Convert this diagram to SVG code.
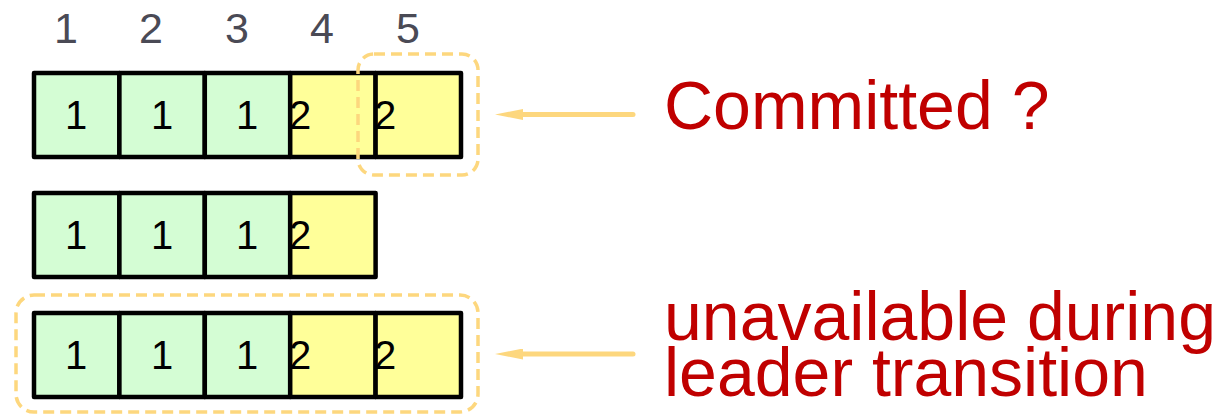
<svg xmlns="http://www.w3.org/2000/svg" width="1224" height="414" viewBox="0 0 1224 414">
  <style>
    .cell { stroke: #000; stroke-width: 4.5; stroke-linejoin: round; }
    .g { fill: #d4fdd4; }
    .y { fill: #ffff99; }
    .term { font-family: "Liberation Sans", Arial, sans-serif; font-size: 40px; fill: #000; }
    .idx { font-family: "Liberation Sans", Arial, sans-serif; font-size: 43px; fill: #4a4a55; text-anchor: middle; }
    .lbl { font-family: "Liberation Sans", Arial, sans-serif; font-size: 68px; fill: #c00000; }
    .dash { fill: none; stroke: #fdd77e; stroke-width: 3.5; stroke-dasharray: 11 6; }
    .arr { stroke: #fdd77e; stroke-width: 5; stroke-linecap: round; fill: none; }
  </style>
  <defs>
    <marker id="ah" viewBox="0 0 28 11" refX="0" refY="5.5" markerWidth="28" markerHeight="11" markerUnits="userSpaceOnUse" orient="auto">
      <path d="M28,5.5 L0,0 L0,11 Z" fill="#fdd77e"/>
    </marker>
  </defs>

  <g id="indices">
    <text class="idx" x="66" y="43">1</text>
    <text class="idx" x="151" y="43">2</text>
    <text class="idx" x="237" y="43">3</text>
    <text class="idx" x="322" y="43">4</text>
    <text class="idx" x="408" y="43">5</text>
  </g>

  <g id="row1">
    <rect class="cell g" x="34" y="73" width="85.4" height="84"/>
    <rect class="cell g" x="119.4" y="73" width="85.4" height="84"/>
    <rect class="cell g" x="204.8" y="73" width="85.4" height="84"/>
    <rect class="cell y" x="290.2" y="73" width="85.4" height="84"/>
    <rect class="cell y" x="375.6" y="73" width="85.4" height="84"/>
    <text class="term" x="76" y="129" text-anchor="middle">1</text>
    <text class="term" x="162" y="129" text-anchor="middle">1</text>
    <text class="term" x="247" y="129" text-anchor="middle">1</text>
    <text class="term" x="289" y="129">2</text>
    <text class="term" x="374" y="129">2</text>
  </g>

  <g id="row2">
    <rect class="cell g" x="34" y="193" width="85.4" height="84"/>
    <rect class="cell g" x="119.4" y="193" width="85.4" height="84"/>
    <rect class="cell g" x="204.8" y="193" width="85.4" height="84"/>
    <rect class="cell y" x="290.2" y="193" width="85.4" height="84"/>
    <text class="term" x="76" y="249" text-anchor="middle">1</text>
    <text class="term" x="162" y="249" text-anchor="middle">1</text>
    <text class="term" x="247" y="249" text-anchor="middle">1</text>
    <text class="term" x="289" y="249">2</text>
  </g>

  <g id="row3">
    <rect class="cell g" x="34" y="313" width="85.4" height="84"/>
    <rect class="cell g" x="119.4" y="313" width="85.4" height="84"/>
    <rect class="cell g" x="204.8" y="313" width="85.4" height="84"/>
    <rect class="cell y" x="290.2" y="313" width="85.4" height="84"/>
    <rect class="cell y" x="375.6" y="313" width="85.4" height="84"/>
    <text class="term" x="76" y="369" text-anchor="middle">1</text>
    <text class="term" x="162" y="369" text-anchor="middle">1</text>
    <text class="term" x="247" y="369" text-anchor="middle">1</text>
    <text class="term" x="289" y="369">2</text>
    <text class="term" x="374" y="369">2</text>
  </g>

  <g id="highlight-entry5">
    <rect class="dash" x="358" y="54" width="120" height="121" rx="16" ry="16"/>
  </g>
  <g id="highlight-row3">
    <rect class="dash" x="16" y="295" width="462" height="117" rx="18" ry="18"/>
  </g>

  <g id="connectors">
    <line class="arr" x1="633" y1="114.5" x2="523" y2="114.5" marker-end="url(#ah)"/>
    <line class="arr" x1="633" y1="354" x2="523" y2="354" marker-end="url(#ah)"/>
  </g>

  <g id="label-committed">
    <text class="lbl" x="664" y="129">Committed ?</text>
  </g>
  <g id="label-unavailable">
    <text class="lbl" x="664" y="340">unavailable during</text>
    <text class="lbl" x="664" y="396">leader transition</text>
  </g>
</svg>
